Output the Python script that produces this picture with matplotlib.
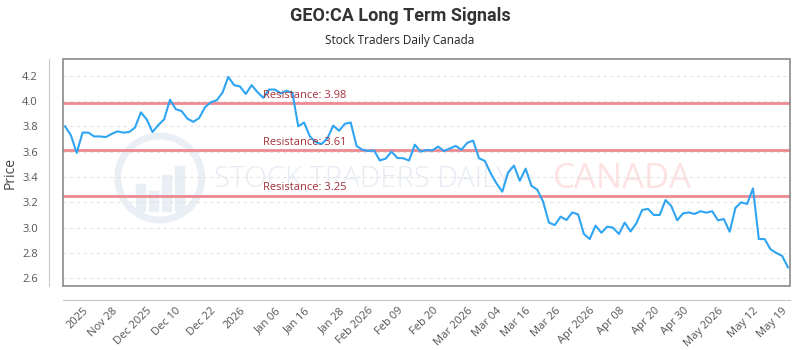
import numpy as np
import matplotlib
matplotlib.use("Agg")
import matplotlib.pyplot as plt
from matplotlib.patches import Ellipse, Rectangle

# daily closes (125 trading days)
prices = [
    3.80, 3.73, 3.59, 3.75, 3.75, 3.72, 3.72, 3.715, 3.74, 3.76,
    3.75, 3.755, 3.79, 3.91, 3.855, 3.755, 3.81, 3.855, 4.01, 3.935,
    3.92, 3.86, 3.835, 3.865, 3.95, 3.99, 4.005, 4.065, 4.19, 4.125,
    4.115, 4.055, 4.125, 4.07, 4.025, 4.09, 4.09, 4.06, 4.08, 4.065,
    3.80, 3.83, 3.72, 3.675, 3.66, 3.705, 3.805, 3.765, 3.82, 3.83,
    3.645, 3.615, 3.605, 3.61, 3.53, 3.545, 3.60, 3.55, 3.548, 3.53,
    3.655, 3.60, 3.613, 3.61, 3.64, 3.605, 3.625, 3.645, 3.615, 3.67,
    3.687, 3.548, 3.527, 3.43, 3.35, 3.284, 3.434, 3.49, 3.37, 3.466,
    3.33, 3.30, 3.205, 3.04, 3.02, 3.087, 3.06, 3.12, 3.105, 2.95,
    2.91, 3.016, 2.96, 3.008, 3.00, 2.95, 3.04, 2.97, 3.035, 3.14,
    3.148, 3.10, 3.10, 3.218, 3.17, 3.058, 3.113, 3.12, 3.108, 3.13,
    3.118, 3.13, 3.058, 3.068, 2.968, 3.157, 3.20, 3.187, 3.31, 2.91,
    2.91, 2.83, 2.80, 2.777, 2.687,
]

tick_pos = [3, 8, 14, 19, 25, 30, 36, 41, 47, 52, 57, 63, 69, 74, 79, 84,
            90, 95, 101, 106, 112, 118, 123]
tick_labels = ["2025", "Nov 28", "Dec 2025", "Dec 10", "Dec 22", "2026",
               "Jan 06", "Jan 16", "Jan 28", "Feb 2026", "Feb 09", "Feb 20",
               "Mar 2026", "Mar 04", "Mar 16", "Mar 26", "Apr 2026", "Apr 08",
               "Apr 20", "Apr 30", "May 2026", "May 12", "May 19"]

resistance = [3.98, 3.61, 3.25]
res_label_pos = 34

y_ticks = [2.6, 2.8, 3.0, 3.2, 3.4, 3.6, 3.8, 4.0, 4.2]

plt.rcParams['font.family'] = ['Open Sans', 'DejaVu Sans']

fig = plt.figure(figsize=(8, 3.5), dpi=100)
ax = fig.add_axes([0.07875, 0.183, 0.90875, 0.648])

# offset axis lines first (set_position resets the ticks)
for s in ['top', 'right']:
    ax.spines[s].set_visible(False)
ax.spines['left'].set_position(('outward', 10))
ax.spines['bottom'].set_position(('outward', 10))
ax.spines['left'].set_color('#c8c8c8')
ax.spines['bottom'].set_color('#c8c8c8')

x = np.arange(len(prices))

# watermark
ax.add_patch(Ellipse((0.133, 0.476), 0.1155, 0.37, transform=ax.transAxes,
                     fill=False, lw=5, ec='#eaeff6', zorder=0))
for bx, bh in zip([0.100, 0.118, 0.136, 0.154], [0.12, 0.09, 0.16, 0.20]):
    ax.add_patch(Rectangle((bx, 0.33), 0.013, bh, transform=ax.transAxes,
                           color='#eaeff6', zorder=0))
ax.text(0.412, 0.47, "STOCK TRADERS DAILY", transform=ax.transAxes,
        fontsize=21, color='#e6ecf4', ha='center', va='center', zorder=0,
        fontweight='light')
ax.text(0.769, 0.47, "CANADA", transform=ax.transAxes,
        fontsize=25, color='#fde2e2', ha='center', va='center', zorder=0)

ax.plot(x, prices, color='#2fa4f3', lw=1.5, zorder=3)

for r in resistance:
    ax.axhline(r, color='#ec8a90', lw=2, zorder=2)
    ax.annotate("Resistance: %.2f" % r, (res_label_pos, r), xytext=(0, 2),
                textcoords='offset points', color='#a3323a', fontsize=8,
                va='bottom', ha='left', zorder=4)

ax.set_xlim(-0.35, len(prices) - 0.65)
ax.set_ylim(2.54, 4.33)
ax.set_yticks(y_ticks)
ax.set_yticklabels(["%.1f" % v for v in y_ticks])
ax.set_xticks(tick_pos)
ax.set_xticklabels(tick_labels, rotation=45, ha='right', rotation_mode='anchor')
ax.tick_params(axis='both', length=0, labelsize=8, labelcolor='#555555')
ax.tick_params(axis='x', pad=4)
ax.tick_params(axis='y', pad=8)
ax.grid(axis='y', color='#e4e4e4', ls=(0, (3, 3)), lw=0.8)
ax.set_axisbelow(True)

ax.add_patch(Rectangle((0, 0), 1, 1, transform=ax.transAxes, fill=False,
                       ec='#8a8a8a', lw=1.2, clip_on=False, zorder=5))

ax.set_ylabel("Price", fontsize=10, color='#444444', labelpad=3)

fig.text(0.5, 0.955, "GEO:CA Long Term Signals", ha='center', va='center',
         fontsize=13, fontweight='bold', color='#333333',
         family=['Liberation Sans Narrow', 'Roboto', 'DejaVu Sans'])
fig.text(0.5, 0.885, "Stock Traders Daily Canada", ha='center', va='center',
         fontsize=8.5, color='#222222')

fig.savefig("out.png", dpi=100)
